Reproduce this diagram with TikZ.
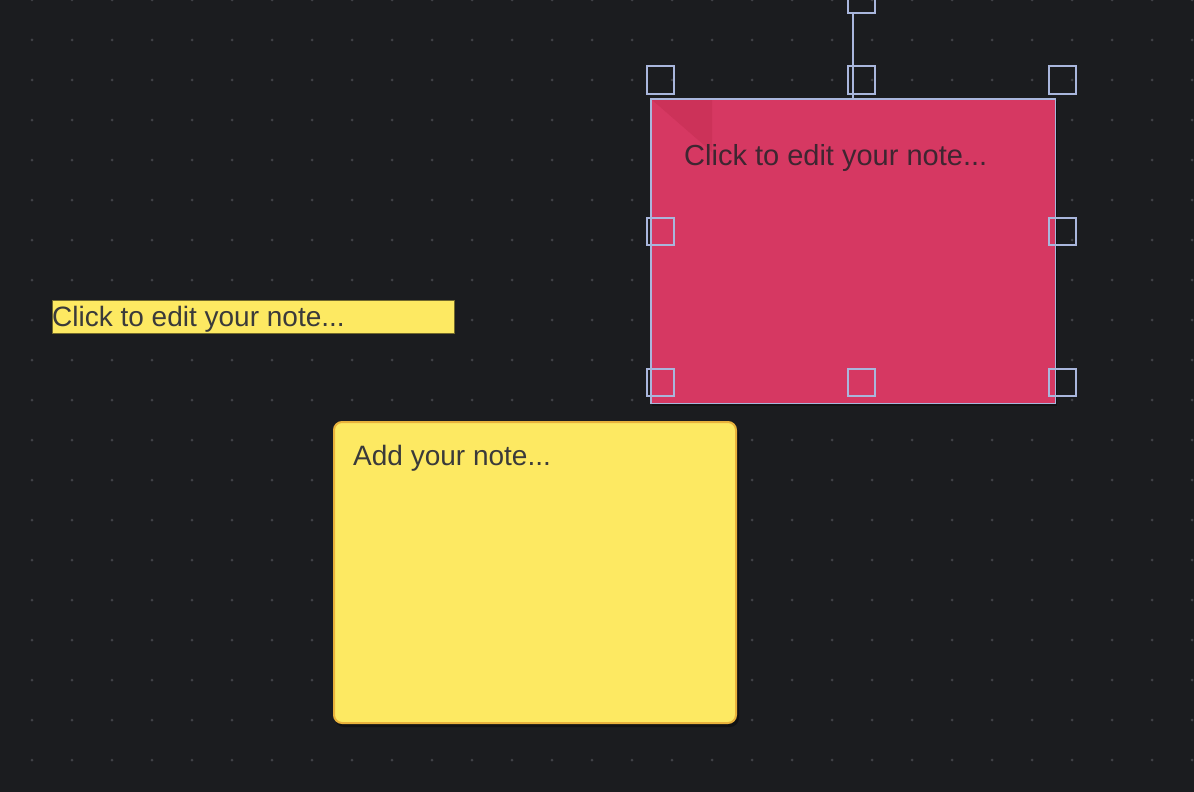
\documentclass[tikz,border=0pt]{standalone}
\usepackage{fontspec}
\setmainfont{Liberation Sans}
\begin{document}
\begin{tikzpicture}[x=1pt,y=-1pt]
\definecolor{bgc}{HTML}{1B1C1F}
\definecolor{dotc}{HTML}{414247}
\definecolor{handlec}{HTML}{A9B6DC}
\definecolor{pinkc}{HTML}{D63862}
\definecolor{pinkfold}{HTML}{CC3259}
\definecolor{yellowc}{HTML}{FDE962}
\definecolor{yborder}{HTML}{E9B23C}
\definecolor{textc}{HTML}{3A3A3A}
\definecolor{pinktext}{HTML}{3E2631}
\tikzset{
  handle/.style={draw=handlec, line width=2pt, minimum size=27pt, inner sep=0pt, fill=none},
  notetext/.style={inner sep=0pt, anchor=base west, text=textc, font=\fontsize{28}{34}\selectfont},
}
% background
\fill[bgc] (0,0) rectangle (1194,792);
\useasboundingbox (0,0) rectangle (1194,792);
% dot grid
\foreach \xx in {32,72,...,1192}{
  \foreach \yy in {0,40,...,800}{
    \fill[dotc] (\xx,\yy) circle (1.5pt);
  }
}
% yellow label
\node[fill=yellowc, draw=black!55!yellowc, line width=0.8pt, inner sep=0pt, minimum width=402pt, minimum height=33pt, anchor=north west] (label) at (52,300) {};
\node[notetext] (labeltext) at (52,326) {Click to edit your note...};
% yellow note with shadow
\fill[black, opacity=0.35, rounded corners=9pt] (335,425) rectangle (739,727);
\node[fill=yellowc, draw=yborder, line width=2pt, rounded corners=8pt, inner sep=0pt, minimum width=402pt, minimum height=301pt, anchor=north west] (ynote) at (333,421) {};
\node[notetext] (ynotetext) at (353,465) {Add your note...};
% pink note
\fill[black, opacity=0.3] (652,101) rectangle (1057,406);
\node[fill=pinkc, inner sep=0pt, minimum width=404pt, minimum height=304pt, anchor=north west] (pnote) at (651,99) {};
\fill[pinkfold] (pnote.north west) -- (712,99) -- (712,152) -- cycle;
\draw[handlec, line width=1.8pt] (pnote.north west) rectangle (pnote.south east);
\node[notetext, text=pinktext, font=\fontsize{29}{35}\selectfont] (pnotetext) at (684,165) {Click to edit your note...};
% rotate handle and connector
\node[handle] (hrot) at (861,-0.5) {};
\node[handle] (htm) at (861,80) {};
\coordinate (rotbase) at (853,99);
\draw[handlec, line width=1.5pt] (hrot.south -| rotbase) -- (rotbase);
% other handles
\node[handle] (htl) at (660,80) {};
\node[handle] (htr) at (1062,80) {};
\node[handle] (hml) at (660,231) {};
\node[handle] (hmr) at (1062,231) {};
\node[handle] (hbl) at (660,382) {};
\node[handle] (hbm) at (861,382) {};
\node[handle] (hbr) at (1062,382) {};
\end{tikzpicture}
\end{document}
